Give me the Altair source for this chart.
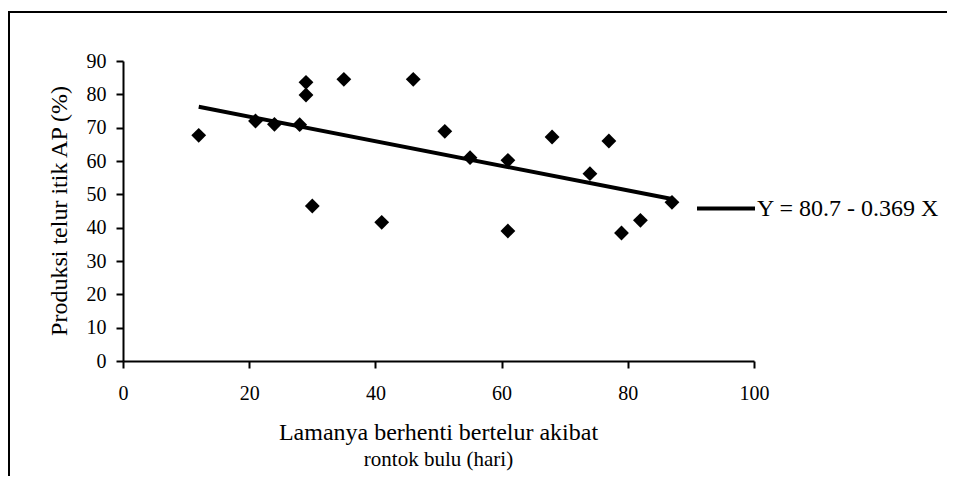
import altair as alt
import pandas as pd

# ---- data ----
days = [12, 21, 24, 28, 29, 29, 30, 35, 41, 46, 51, 55, 61, 61, 68, 74, 77, 79, 82, 87]
production = [67.7, 72.0, 71.0, 70.9, 83.6, 79.8, 46.5, 84.5, 41.6, 84.5,
              68.9, 61.0, 60.2, 39.0, 67.2, 56.2, 66.0, 38.4, 42.2, 47.6]
intercept = 80.7
slope = -0.369
x_ticks = [0, 20, 40, 60, 80, 100]
y_ticks = [0, 10, 20, 30, 40, 50, 60, 70, 80, 90]
x_title = "Lamanya berhenti bertelur akibat"
x_subtitle = "rontok bulu (hari)"
y_title = "Produksi telur itik AP (%)"
legend_label = f"Y = {intercept} - {abs(slope)} X"

FONT = "Liberation Serif"
W, H = 631, 300
PAD = {"left": 115, "top": 53, "right": 193, "bottom": 115}

pts = pd.DataFrame({"x": days, "y": production})
xmin, xmax = min(days), max(days)
fit = pd.DataFrame({"x": [xmin, xmax],
                    "y": [intercept + slope * xmin, intercept + slope * xmax]})

xscale = alt.Scale(domain=[0, 100], nice=False, zero=False)
yscale = alt.Scale(domain=[0, 90], nice=False, zero=False)

axis_common = dict(
    grid=False, labelFont=FONT, labelFontSize=20, labelColor="black",
    domainColor="black", domainWidth=2, tickColor="black", tickWidth=2,
    tickSize=7, title=None, labelFlush=False, labelOverlap=False,
)
xaxis = alt.Axis(values=x_ticks, tickCount=len(x_ticks), labelPadding=15, **axis_common)
yaxis = alt.Axis(values=y_ticks, tickCount=len(y_ticks), labelPadding=10, **axis_common)

points = alt.Chart(pts).mark_point(
    shape="diamond", filled=True, color="black", size=220, opacity=1
).encode(
    x=alt.X("x:Q", scale=xscale, axis=xaxis),
    y=alt.Y("y:Q", scale=yscale, axis=yaxis),
)

line = alt.Chart(fit).mark_line(color="black", strokeWidth=4).encode(
    x=alt.X("x:Q", scale=xscale, axis=xaxis),
    y=alt.Y("y:Q", scale=yscale, axis=yaxis),
)

def txt(s, x, y, size, align="center", angle=0):
    return alt.Chart(pd.DataFrame({"t": [s]})).mark_text(
        font=FONT, fontSize=size, color="black", align=align,
        baseline="alphabetic", angle=angle
    ).encode(x=alt.value(x), y=alt.value(y), text="t:N")

title1 = txt(x_title, W / 2, 379, 24)
title2 = txt(x_subtitle, W / 2, 405, 21)
ytitle = txt(y_title, -56, H / 2, 24, angle=270)
leg_text = txt(legend_label, 634, 155, 24, align="left")

one = pd.DataFrame({"a": [0]})
leg_line = alt.Chart(one).mark_rule(color="black", strokeWidth=4).encode(
    x=alt.value(574), x2=alt.value(632), y=alt.value(147.5)
)
frame_top = alt.Chart(one).mark_rule(color="black", strokeWidth=2).encode(
    x=alt.value(-115), x2=alt.value(824), y=alt.value(-49)
)
frame_left = alt.Chart(one).mark_rule(color="black", strokeWidth=2).encode(
    x=alt.value(-114), y=alt.value(-49), y2=alt.value(415)
)

chart = alt.layer(
    frame_top, frame_left, line, points, title1, title2, ytitle, leg_line, leg_text
).properties(
    width=W, height=H,
    autosize=alt.AutoSizeParams(type="none"),
    padding=PAD,
    background="white",
).configure_view(stroke=None)

chart.save("out.html", embed_options={"renderer": "svg", "actions": False})
